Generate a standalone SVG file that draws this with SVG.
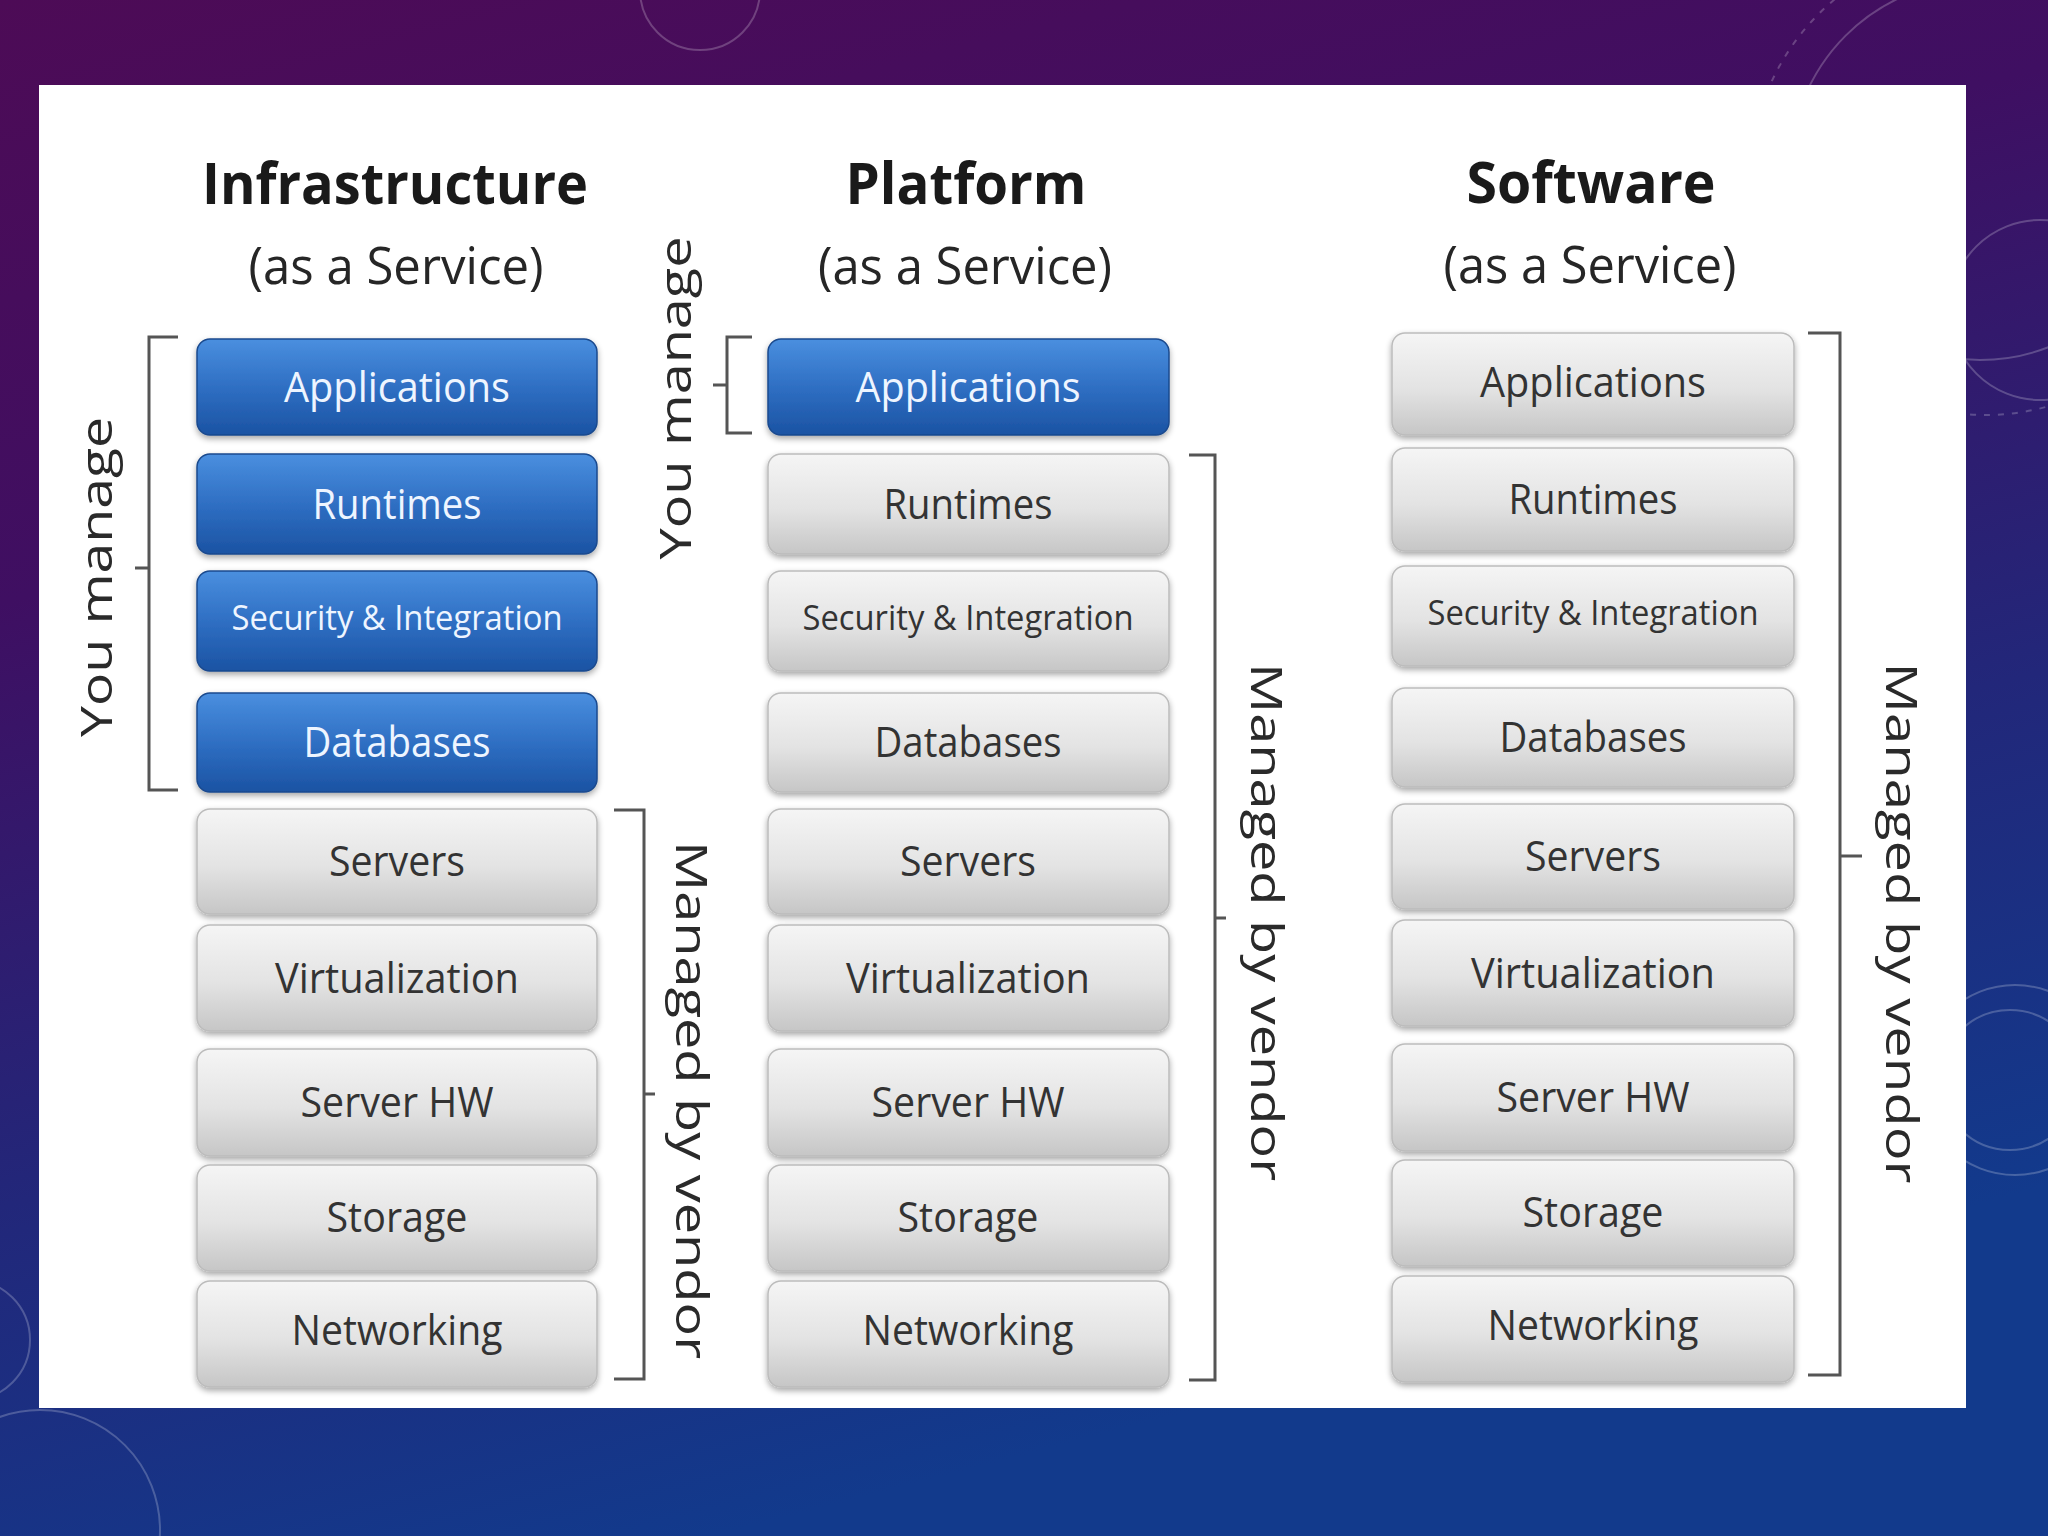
<svg xmlns="http://www.w3.org/2000/svg" width="2048" height="1536" viewBox="0 0 2048 1536">
<defs>
<linearGradient id="bg" x1="0" y1="0" x2="0.35" y2="1">
<stop offset="0" stop-color="#4d0b56"/>
<stop offset="0.35" stop-color="#3f0f62"/>
<stop offset="0.7" stop-color="#22277a"/>
<stop offset="1" stop-color="#123a8c"/>
</linearGradient>
<linearGradient id="gGray" x1="0" y1="0" x2="0" y2="1">
<stop offset="0" stop-color="#f5f5f5"/>
<stop offset="0.55" stop-color="#e3e3e3"/>
<stop offset="1" stop-color="#c6c6c6"/>
</linearGradient>
<linearGradient id="gBlue" x1="0" y1="0" x2="0" y2="1">
<stop offset="0" stop-color="#4a8fdf"/>
<stop offset="0.5" stop-color="#2f6fc3"/>
<stop offset="1" stop-color="#1b53a3"/>
</linearGradient>
<filter id="sh" x="-5%" y="-10%" width="110%" height="130%">
<feGaussianBlur in="SourceAlpha" stdDeviation="3"/>
<feOffset dy="3" result="b"/>
<feComponentTransfer><feFuncA type="linear" slope="0.35"/></feComponentTransfer>
<feMerge><feMergeNode/><feMergeNode in="SourceGraphic"/></feMerge>
</filter>
</defs>
<style>
.gray{fill:url(#gGray);stroke:#bcbcbc;stroke-width:1.5;filter:url(#sh)}
.blue{fill:url(#gBlue);stroke:#1a4a8e;stroke-width:1.5;filter:url(#sh)}
.lg{font-family:"Open Sans","Noto Sans",sans-serif;font-size:42px;fill:#333333;text-anchor:middle}
.lb{font-family:"Open Sans","Noto Sans",sans-serif;font-size:42px;fill:#eef5ff;text-anchor:middle}
.sm{font-size:34px}
.title{font-family:"Open Sans","Noto Sans",sans-serif;font-size:58px;font-weight:bold;fill:#1a1a1a;text-anchor:middle}
.sub{font-family:"Open Sans","Noto Sans",sans-serif;font-size:52px;fill:#262626;text-anchor:middle}
.side{font-family:"Open Sans","Noto Sans",sans-serif;font-size:44px;fill:#2a2a2a;text-anchor:middle}
.br{fill:none;stroke:#555;stroke-width:3}
.deco{fill:none;stroke:#ffffff;stroke-opacity:0.22;stroke-width:2}
</style>
<rect x="0" y="0" width="2048" height="1536" fill="url(#bg)"/>
<g id="decor">
<circle class="deco" cx="700" cy="-10" r="60"/>
<circle class="deco" cx="1980" cy="170" r="190"/>
<circle class="deco" cx="1985" cy="180" r="235" stroke-dasharray="6 8"/>
<circle class="deco" cx="2040" cy="310" r="90"/>
<circle class="deco" cx="2010" cy="1080" r="70"/>
<circle class="deco" cx="2015" cy="1080" r="95"/>
<circle class="deco" cx="40" cy="1530" r="120"/>
<circle class="deco" cx="-30" cy="1340" r="60"/>
</g>
<rect id="panel" x="39" y="85" width="1927" height="1323" fill="#ffffff"/>

<g id="titles">
<text class="title" x="395" y="204" textLength="386" lengthAdjust="spacingAndGlyphs">Infrastructure</text>
<text class="sub" x="396" y="284" textLength="295" lengthAdjust="spacingAndGlyphs">(as a Service)</text>
<text class="title" x="966" y="204" textLength="241" lengthAdjust="spacingAndGlyphs">Platform</text>
<text class="sub" x="965" y="284" textLength="294" lengthAdjust="spacingAndGlyphs">(as a Service)</text>
<text class="title" x="1591" y="203" textLength="249" lengthAdjust="spacingAndGlyphs">Software</text>
<text class="sub" x="1590" y="283" textLength="293" lengthAdjust="spacingAndGlyphs">(as a Service)</text>
</g>

<g id="iaas">
<g id="iaas-applications"><rect class="blue" x="197" y="339" width="400" height="96" rx="13"/><text class="lb" x="397" y="402" textLength="226" lengthAdjust="spacingAndGlyphs">Applications</text></g>
<g id="iaas-runtimes"><rect class="blue" x="197" y="454" width="400" height="100" rx="13"/><text class="lb" x="397" y="519" textLength="169" lengthAdjust="spacingAndGlyphs">Runtimes</text></g>
<g id="iaas-security"><rect class="blue" x="197" y="571" width="400" height="100" rx="13"/><text class="lb sm" x="397" y="630" textLength="331" lengthAdjust="spacingAndGlyphs">Security &amp; Integration</text></g>
<g id="iaas-databases"><rect class="blue" x="197" y="693" width="400" height="99" rx="13"/><text class="lb" x="397" y="757" textLength="187" lengthAdjust="spacingAndGlyphs">Databases</text></g>
<g id="iaas-servers"><rect class="gray" x="197" y="809" width="400" height="105" rx="13"/><text class="lg" x="397" y="876" textLength="136" lengthAdjust="spacingAndGlyphs">Servers</text></g>
<g id="iaas-virtualization"><rect class="gray" x="197" y="925" width="400" height="106" rx="13"/><text class="lg" x="397" y="993" textLength="244" lengthAdjust="spacingAndGlyphs">Virtualization</text></g>
<g id="iaas-serverhw"><rect class="gray" x="197" y="1049" width="400" height="107" rx="13"/><text class="lg" x="397" y="1117" textLength="193" lengthAdjust="spacingAndGlyphs">Server HW</text></g>
<g id="iaas-storage"><rect class="gray" x="197" y="1165" width="400" height="106" rx="13"/><text class="lg" x="397" y="1232" textLength="141" lengthAdjust="spacingAndGlyphs">Storage</text></g>
<g id="iaas-networking"><rect class="gray" x="197" y="1281" width="400" height="106" rx="13"/><text class="lg" x="397" y="1345" textLength="211" lengthAdjust="spacingAndGlyphs">Networking</text></g>
</g>

<g id="paas">
<g id="paas-applications"><rect class="blue" x="768" y="339" width="401" height="96" rx="13"/><text class="lb" x="968" y="402" textLength="225" lengthAdjust="spacingAndGlyphs">Applications</text></g>
<g id="paas-runtimes"><rect class="gray" x="768" y="454" width="401" height="100" rx="13"/><text class="lg" x="968" y="519" textLength="169" lengthAdjust="spacingAndGlyphs">Runtimes</text></g>
<g id="paas-security"><rect class="gray" x="768" y="571" width="401" height="100" rx="13"/><text class="lg sm" x="968" y="630" textLength="331" lengthAdjust="spacingAndGlyphs">Security &amp; Integration</text></g>
<g id="paas-databases"><rect class="gray" x="768" y="693" width="401" height="99" rx="13"/><text class="lg" x="968" y="757" textLength="187" lengthAdjust="spacingAndGlyphs">Databases</text></g>
<g id="paas-servers"><rect class="gray" x="768" y="809" width="401" height="105" rx="13"/><text class="lg" x="968" y="876" textLength="136" lengthAdjust="spacingAndGlyphs">Servers</text></g>
<g id="paas-virtualization"><rect class="gray" x="768" y="925" width="401" height="106" rx="13"/><text class="lg" x="968" y="993" textLength="244" lengthAdjust="spacingAndGlyphs">Virtualization</text></g>
<g id="paas-serverhw"><rect class="gray" x="768" y="1049" width="401" height="107" rx="13"/><text class="lg" x="968" y="1117" textLength="193" lengthAdjust="spacingAndGlyphs">Server HW</text></g>
<g id="paas-storage"><rect class="gray" x="768" y="1165" width="401" height="106" rx="13"/><text class="lg" x="968" y="1232" textLength="141" lengthAdjust="spacingAndGlyphs">Storage</text></g>
<g id="paas-networking"><rect class="gray" x="768" y="1281" width="401" height="106" rx="13"/><text class="lg" x="968" y="1345" textLength="211" lengthAdjust="spacingAndGlyphs">Networking</text></g>
</g>

<g id="saas">
<g id="saas-applications"><rect class="gray" x="1392" y="333" width="402" height="102" rx="13"/><text class="lg" x="1593" y="397" textLength="226" lengthAdjust="spacingAndGlyphs">Applications</text></g>
<g id="saas-runtimes"><rect class="gray" x="1392" y="448" width="402" height="103" rx="13"/><text class="lg" x="1593" y="514" textLength="169" lengthAdjust="spacingAndGlyphs">Runtimes</text></g>
<g id="saas-security"><rect class="gray" x="1392" y="566" width="402" height="100" rx="13"/><text class="lg sm" x="1593" y="625" textLength="331" lengthAdjust="spacingAndGlyphs">Security &amp; Integration</text></g>
<g id="saas-databases"><rect class="gray" x="1392" y="688" width="402" height="99" rx="13"/><text class="lg" x="1593" y="752" textLength="187" lengthAdjust="spacingAndGlyphs">Databases</text></g>
<g id="saas-servers"><rect class="gray" x="1392" y="804" width="402" height="105" rx="13"/><text class="lg" x="1593" y="871" textLength="136" lengthAdjust="spacingAndGlyphs">Servers</text></g>
<g id="saas-virtualization"><rect class="gray" x="1392" y="920" width="402" height="106" rx="13"/><text class="lg" x="1593" y="988" textLength="244" lengthAdjust="spacingAndGlyphs">Virtualization</text></g>
<g id="saas-serverhw"><rect class="gray" x="1392" y="1044" width="402" height="107" rx="13"/><text class="lg" x="1593" y="1112" textLength="193" lengthAdjust="spacingAndGlyphs">Server HW</text></g>
<g id="saas-storage"><rect class="gray" x="1392" y="1160" width="402" height="106" rx="13"/><text class="lg" x="1593" y="1227" textLength="141" lengthAdjust="spacingAndGlyphs">Storage</text></g>
<g id="saas-networking"><rect class="gray" x="1392" y="1276" width="402" height="106" rx="13"/><text class="lg" x="1593" y="1340" textLength="211" lengthAdjust="spacingAndGlyphs">Networking</text></g>
</g>

<g id="connectors">
<path class="br" d="M178,337 H149 V790 H178 M149,568 H135"/>
<path class="br" d="M752,337 H727 V433 H752 M727,385 H713"/>
<path class="br" d="M614,810 H644 V1379 H614 M644,1094 H655"/>
<path class="br" d="M1189,455 H1215 V1380 H1189 M1215,918 H1226"/>
<path class="br" d="M1808,333 H1840 V1375 H1808 M1840,856 H1862"/>
</g>

<g id="side-labels">
<text class="side" transform="translate(112,577) rotate(-90)" textLength="320" lengthAdjust="spacingAndGlyphs">You manage</text>
<text class="side" transform="translate(691,398) rotate(-90)" textLength="323" lengthAdjust="spacingAndGlyphs">You manage</text>
<text class="side" transform="translate(676,1100) rotate(90)" textLength="518" lengthAdjust="spacingAndGlyphs">Managed by vendor</text>
<text class="side" transform="translate(1251,922) rotate(90)" textLength="518" lengthAdjust="spacingAndGlyphs">Managed by vendor</text>
<text class="side" transform="translate(1886,923) rotate(90)" textLength="521" lengthAdjust="spacingAndGlyphs">Managed by vendor</text>
</g>
</svg>
